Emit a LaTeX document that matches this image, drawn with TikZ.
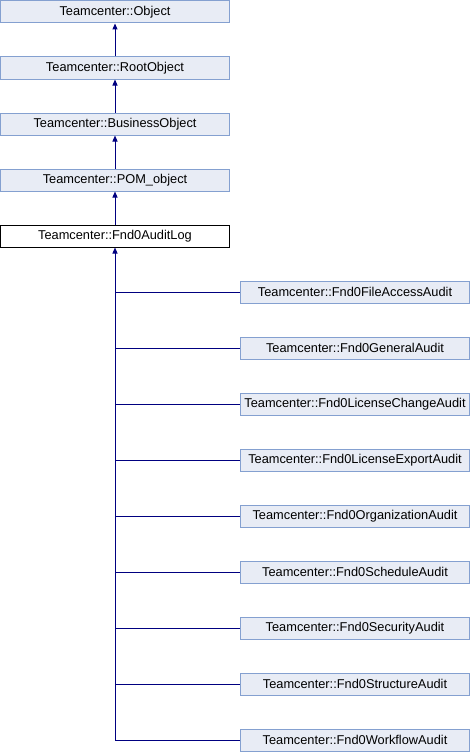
\documentclass[tikz,border=0pt]{standalone}
\usepackage{fontspec}
\setmainfont{Liberation Sans}
\usetikzlibrary{arrows.meta}
\definecolor{boxfill}{HTML}{E8ECF5}
\definecolor{boxdraw}{HTML}{84A0D0}
\definecolor{linecol}{HTML}{000080}
\tikzset{
  cls/.style={draw=boxdraw, fill=boxfill, line width=1pt, minimum width=229pt, minimum height=22pt, inner sep=0pt, font=\fontsize{12.8}{14}\selectfont, anchor=center},
  cur/.style={cls, draw=black, fill=white},
  inh/.style={draw=linecol, line width=1pt, -{Triangle[width=5pt,length=6pt]}},
  br/.style={draw=linecol, line width=1pt}
}
\begin{document}
\begin{tikzpicture}[x=1pt,y=-1pt]
\useasboundingbox (0,0) rectangle (470,752);
\node[cls] (obj) at (115,12) {Teamcenter::Object};
\node[cls] (root) at (115,68) {Teamcenter::RootObject};
\node[cls] (bo) at (115,124) {Teamcenter::BusinessObject};
\node[cls] (pom) at (115,180) {Teamcenter::POM\_object};
\node[cur] (log) at (115,236) {Teamcenter::Fnd0AuditLog};
\node[cls] (c1) at (355,292) {Teamcenter::Fnd0FileAccessAudit};
\node[cls] (c2) at (355,348) {Teamcenter::Fnd0GeneralAudit};
\node[cls] (c3) at (355,404) {Teamcenter::Fnd0LicenseChangeAudit};
\node[cls] (c4) at (355,460) {Teamcenter::Fnd0LicenseExportAudit};
\node[cls] (c5) at (355,516) {Teamcenter::Fnd0OrganizationAudit};
\node[cls] (c6) at (355,572) {Teamcenter::Fnd0ScheduleAudit};
\node[cls] (c7) at (355,628) {Teamcenter::Fnd0SecurityAudit};
\node[cls] (c8) at (355,684) {Teamcenter::Fnd0StructureAudit};
\node[cls] (c9) at (355,740) {Teamcenter::Fnd0WorkflowAudit};
\draw[inh] (root.north) -- (obj.south);
\draw[inh] (bo.north) -- (root.south);
\draw[inh] (pom.north) -- (bo.south);
\draw[inh] (log.north) -- (pom.south);
\coordinate (tb) at (log.south |- c9.west);
\draw[inh] (tb) -- (log.south);
\foreach \c in {c1,c2,c3,c4,c5,c6,c7,c8,c9}{
  \draw[br] (log.south |- \c.west) -- (\c.west);
}
\end{tikzpicture}
\end{document}
